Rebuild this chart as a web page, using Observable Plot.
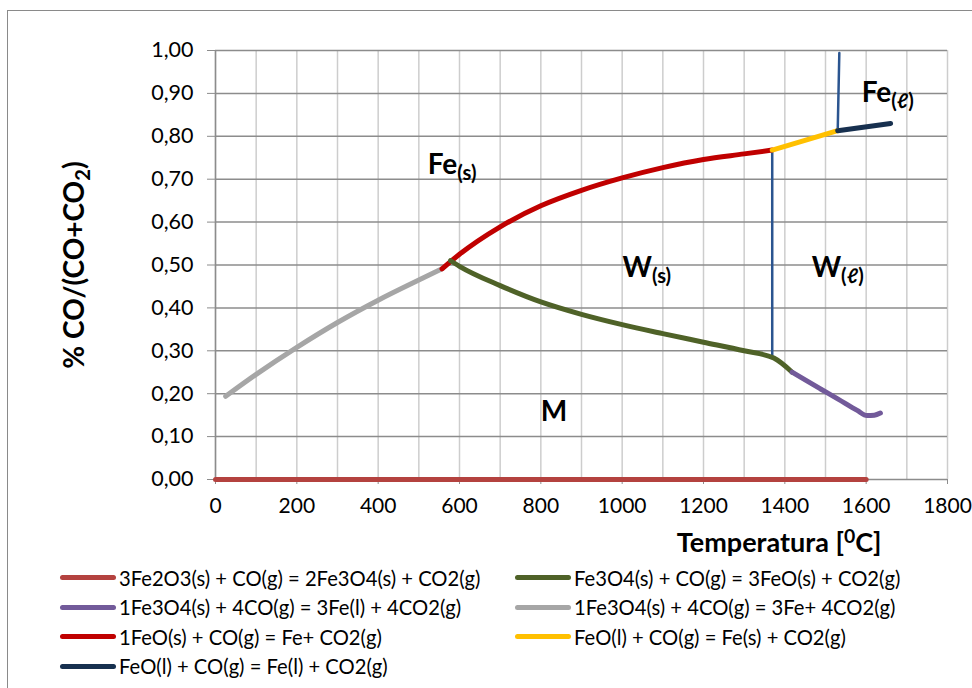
<!DOCTYPE html>
<html><head><meta charset="utf-8">
<script src="https://cdn.jsdelivr.net/npm/d3@7"></script>
<script src="https://cdn.jsdelivr.net/npm/@observablehq/plot@0.6"></script>
<style>
body{margin:0;background:#fff;overflow:hidden;font-family:Lato,sans-serif;}
#wrap{position:relative;width:972px;height:688px;overflow:hidden}
#border{position:absolute;left:7px;top:10px;width:1000px;height:720px;border:1.5px solid #8a8a8a;box-sizing:border-box;pointer-events:none}
#chart{position:absolute;left:0;top:0}
#legend{position:absolute;left:60px;top:563px;display:grid;grid-template-columns:455px 420px}
.item{display:flex;align-items:center;height:29.5px;font-size:20.2px;color:#000;white-space:nowrap}
.sw{width:56px;height:5px;border-radius:3px;margin-right:3px;flex:none}
</style></head>
<body><div id="wrap"><div id="chart"></div><div id="legend"></div><div id="border"></div></div>
<script>
// ---- data ----
const xTicks = [0, 200, 400, 600, 800, 1000, 1200, 1400, 1600, 1800];
const xGrid = [0, 100, 200, 300, 400, 500, 600, 700, 800, 900, 1000, 1100, 1200, 1300, 1400, 1500, 1600, 1700, 1800];
const yTicks = [0, 0.1, 0.2, 0.3, 0.4, 0.5, 0.6, 0.7, 0.8, 0.9, 1.0];

const names = [
  "3Fe2O3(s) + CO(g) = 2Fe3O4(s) + CO2(g)",
  "Fe3O4(s) + CO(g) = 3FeO(s) + CO2(g)",
  "1Fe3O4(s) + 4CO(g) = 3Fe(l) + 4CO2(g)",
  "1Fe3O4(s) + 4CO(g) = 3Fe+ 4CO2(g)",
  "1FeO(s) + CO(g) = Fe+ CO2(g)",
  "FeO(l) + CO(g) = Fe(s) + CO2(g)",
  "FeO(l) + CO(g) = Fe(l) + CO2(g)"
];
const colors = ["#b4423f", "#4f6228", "#725a9a", "#a6a6a6", "#c00000", "#ffc000", "#17304f"];

const hemT = [0, 1600];
const hemY = [0, 0];
const magWusT = [578, 600, 700, 800, 900, 1000, 1100, 1200, 1300, 1373, 1418];
const magWusY = [0.510, 0.497, 0.452, 0.414, 0.385, 0.361, 0.340, 0.320, 0.300, 0.283, 0.250];
const magFelT = [1418, 1450, 1488, 1530, 1578, 1602, 1620, 1635];
const magFelY = [0.250, 0.232, 0.211, 0.188, 0.161, 0.149, 0.150, 0.155];
const magFesT = [25, 100, 200, 300, 400, 500, 557];
const magFesY = [0.194, 0.245, 0.308, 0.366, 0.418, 0.465, 0.491];
const wusFesT = [557, 600, 700, 800, 900, 1000, 1100, 1200, 1300, 1369];
const wusFesY = [0.491, 0.525, 0.589, 0.638, 0.674, 0.703, 0.727, 0.746, 0.759, 0.768];
const wlFesT = [1369, 1530];
const wlFesY = [0.768, 0.813];
const wlFelT = [1530, 1660];
const wlFelY = [0.813, 0.830];

const bound1T = [1369, 1369];
const bound1Y = [0.768, 0.283];
const bound2T = [1530, 1534];
const bound2Y = [0.813, 0.994];

const seriesT = [hemT, magWusT, magFelT, magFesT, wusFesT, wlFesT, wlFelT];
const seriesY = [hemY, magWusY, magFelY, magFesY, wusFesY, wlFesY, wlFelY];
const drawOrder = [0, 3, 4, 1, 2, 5, 6];

const labelText = ["Fe_{(s)}", "W_{(s)}", "W_{(\u2113)}", "Fe_{(\u2113)}", "M"];
const labelT = [522, 1001, 1466, 1589, 800];
const labelY = [0.732, 0.492, 0.492, 0.900, 0.158];

// ---- build ----
const toXY = (T, Y) => T.map((t, i) => ({t, y: Y[i]}));
const fmtY = d => d.toFixed(2).replace(".", ",");
const lineMarks = drawOrder.map(k => Plot.line(toXY(seriesT[k], seriesY[k]), {
  x: "t", y: "y", stroke: colors[k], strokeWidth: 5, strokeLinecap: "round", strokeLinejoin: "round", curve: "monotone-x"
}));
const boundColor = "#2b5590";
const labels = labelText.map((s, i) => ({s, t: labelT[i], y: labelY[i]}));

const chart = Plot.plot({
  width: 972, height: 560,
  marginLeft: 215, marginRight: 25, marginTop: 50, marginBottom: 81,
  x: {domain: [0, 1800]},
  y: {domain: [0, 1]},
  style: {fontFamily: "Lato, sans-serif", fontSize: "21px", color: "#000", background: "transparent", overflow: "visible"},
  marks: [
    Plot.ruleX(xGrid, {stroke: "#cdcdcd", strokeWidth: 1.5}),
    Plot.ruleY(yTicks, {stroke: "#8c8c8c", strokeWidth: 1.5}),
    Plot.ruleX([0], {stroke: "#8c8c8c", strokeWidth: 1.5}),
    Plot.axisX({ticks: xTicks, tickSize: 5, tickPadding: 14, tickFormat: d => String(d), label: null, stroke: "#8c8c8c", fontSize: 21}),
    Plot.axisY({ticks: yTicks, tickSize: 8, tickPadding: 14, tickFormat: fmtY, label: null, stroke: "#8c8c8c", fontSize: 21.5}),
    Plot.line(toXY(bound1T, bound1Y), {x: "t", y: "y", stroke: boundColor, strokeWidth: 2.5}),
    Plot.line(toXY(bound2T, bound2Y), {x: "t", y: "y", stroke: boundColor, strokeWidth: 2.5}),
    ...lineMarks,
    Plot.text(labels, {x: "t", y: "y", text: "s", fontSize: 28, fontWeight: "bold", textAnchor: "start", lineAnchor: "middle", fill: "#000"}),
    Plot.text(["Temperatura [^{0}C]"], {frameAnchor: "bottom-right", dx: -66, dy: 64, fontSize: 27, fontWeight: "bold", textAnchor: "end", lineAnchor: "middle", fill: "#000"}),
    Plot.text(["% CO/(CO+CO_{2})"], {frameAnchor: "left", dx: -140, rotate: -90, fontSize: 28, fontWeight: "bold", textAnchor: "middle", lineAnchor: "middle", fill: "#000"})
  ]
});
document.getElementById("chart").appendChild(chart);

// rich text (sub/superscripts)
const NS = "http://www.w3.org/2000/svg";
chart.querySelectorAll("text").forEach(el => {
  const s = el.textContent;
  if (!/[_^]\{/.test(s)) return;
  while (el.firstChild) el.removeChild(el.firstChild);
  const re = /([_^])\{([^}]*)\}|([^_^]+)/g;
  let m;
  while ((m = re.exec(s))) {
    const ts = document.createElementNS(NS, "tspan");
    if (m[1]) {
      ts.textContent = m[2];
      ts.setAttribute("font-size", "72%");
      ts.setAttribute("baseline-shift", m[1] === "_" ? "-32%" : "45%");
    } else {
      ts.textContent = m[3];
    }
    el.appendChild(ts);
  }
});

// legend
const legend = d3.select("#legend");
[0, 1, 2, 3, 4, 5, 6].forEach(k => {
  const it = legend.append("div").attr("class", "item");
  it.append("span").attr("class", "sw").style("background", colors[k]);
  it.append("span").text(names[k]);
});
</script>
</body></html>
